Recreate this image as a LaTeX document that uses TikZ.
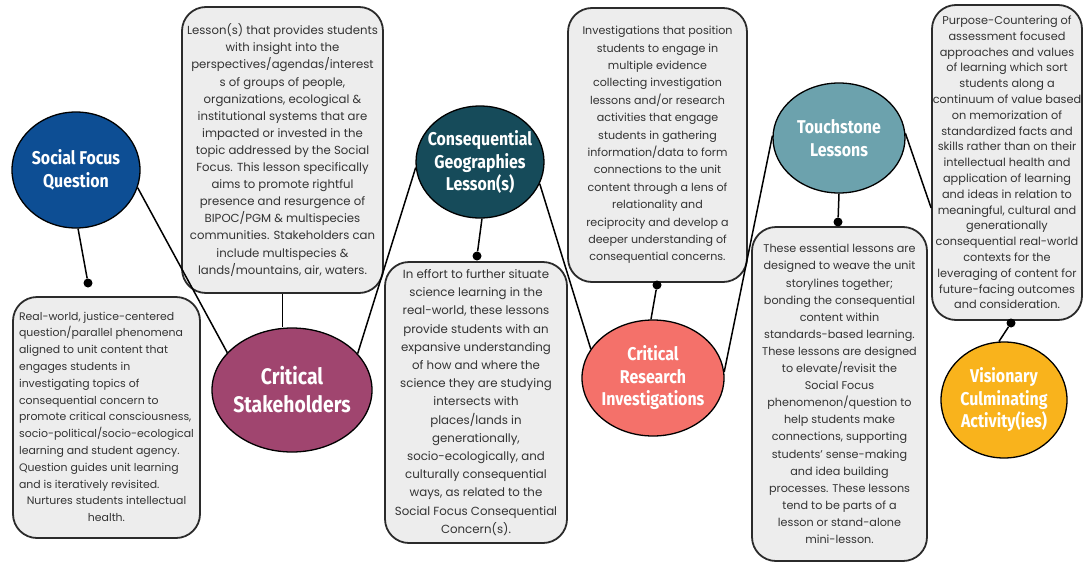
\documentclass[tikz,border=0pt]{standalone}
\usepackage{fontspec}
\setmainfont{Poppins}
\newfontfamily\titlefont{Fira Sans}[FakeStretch=0.86]
\usetikzlibrary{shapes.geometric,calc}

\definecolor{boxfill}{HTML}{EDEDED}
\definecolor{boxline}{HTML}{2B2B2B}
\definecolor{boxtext}{HTML}{333333}
\definecolor{sfqblue}{HTML}{0D4E94}
\definecolor{csplum}{HTML}{A0456F}
\definecolor{cgteal}{HTML}{164B5A}
\definecolor{crisalmon}{HTML}{F4716A}
\definecolor{tlteal}{HTML}{6CA2AD}
\definecolor{vcaamber}{HTML}{F9B31C}

\tikzset{
  descbox/.style={draw=boxline, line width=1.8pt, fill=boxfill,
    rounded corners=24pt, inner sep=0pt, align=center, text=boxtext,
    font=\fontsize{11.4}{17.2}\selectfont},
  topic/.style={ellipse, draw=black, line width=1.3pt, inner sep=0pt},
  topictext/.style={align=center, text=white, inner sep=0pt,
    font=\titlefont\bfseries\fontsize{18.5}{22.5}\selectfont},
  link/.style={line width=1.5pt, draw=black},
  dot/.style={circle, fill=black, inner sep=0pt, minimum size=9pt},
}

\begin{document}
\begin{tikzpicture}[x=1pt, y=-1pt]
\useasboundingbox (0,0) rectangle (1083,562);

% ---------- topic ellipses ----------
\node[topic, fill=sfqblue, minimum width=128pt, minimum height=116pt] (sfq) at (76,170) {};
\node[topic, fill=csplum, minimum width=160pt, minimum height=124pt] (cs) at (292,390) {};
\node[topic, fill=cgteal, minimum width=128pt, minimum height=112pt] (cg) at (480,162) {};
\node[topic, fill=crisalmon, minimum width=142pt, minimum height=116pt] (cri) at (653,378) {};
\node[topic, fill=tlteal, minimum width=132pt, minimum height=110pt] (tl) at (839,138) {};
\node[topic, fill=vcaamber, minimum width=126pt, minimum height=116pt] (vca) at (1004,400) {};

\node[topictext] (sfq-t) at (sfq) {Social Focus\\Question};
\node[topictext, font=\titlefont\bfseries\fontsize{22.5}{28}\selectfont] (cs-t) at (cs) {Critical\\Stakeholders};
\node[topictext] (cg-t) at (cg) {Consequential\\Geographies\\Lesson(s)};
\node[topictext] (cri-t) at (cri) {Critical\\Research\\Investigations};
\node[topictext] (tl-t) at (tl) {Touchstone\\Lessons};
\node[topictext] (vca-t) at (vca) {Visionary\\Culminating\\Activity(ies)};

% ---------- description boxes ----------
\node[descbox, minimum width=187pt, minimum height=241pt,
      font=\fontsize{10.9}{16.8}\selectfont] (b1) at (106.5,417.5) {%
  \begin{tabular}{@{}l@{}}
  Real-world, justice-centered\\
  question/parallel phenomena\\
  aligned to unit content that\\
  engages students in\\
  investigating topics of\\
  consequential concern to\\
  promote critical consciousness,\\
  socio-political/socio-ecological\\
  learning and student agency.\\
  Question guides unit learning\\
  and is iteratively revisited.\\
  \multicolumn{1}{@{}c@{}}{Nurtures students intellectual}\\
  \multicolumn{1}{@{}c@{}}{health.}
  \end{tabular}};

\node[descbox, minimum width=201pt, minimum height=286pt,
      font=\fontsize{11.7}{17.1}\selectfont] (b2) at (282.5,150) {%
  Lesson(s) that provides students\\
  with insight into the\\
  perspectives/agendas/interest\\
  s of groups of people,\\
  organizations, ecological \&\\
  institutional systems that are\\
  impacted or invested in the\\
  topic addressed by the Social\\
  Focus. This lesson specifically\\
  aims to promote rightful\\
  presence and resurgence of\\
  BIPOC/PGM \& multispecies\\
  communities. Stakeholders can\\
  include multispecies \&\\
  lands/mountains, air, waters.};

\node[descbox, minimum width=182pt, minimum height=281pt,
      font=\fontsize{11.8}{18.2}\selectfont] (b3) at (476,402.5) {%
  In effort to further situate\\
  science learning in the\\
  real-world, these lessons\\
  provide students with an\\
  expansive understanding\\
  of how and where the\\
  science they are studying\\
  intersects with\\
  places/lands in\\
  generationally,\\
  socio-ecologically, and\\
  culturally consequential\\
  ways, as related to the\\
  Social Focus Consequential\\
  Concern(s).};

\node[descbox, minimum width=179pt, minimum height=274pt,
      font=\fontsize{11.1}{17.4}\selectfont] (b4) at (657.5,145) {%
  Investigations that position\\
  students to engage in\\
  multiple evidence\\
  collecting investigation\\
  lessons and/or research\\
  activities that engage\\
  students in gathering\\
  information/data to form\\
  connections to the unit\\
  content through a lens of\\
  relationality and\\
  reciprocity and develop a\\
  deeper understanding of\\
  consequential concerns.};

\node[descbox, minimum width=175pt, minimum height=334pt,
      font=\fontsize{11.2}{17.1}\selectfont] (b5) at (839.5,394) {%
  These essential lessons are\\
  designed to weave the unit\\
  storylines together;\\
  bonding the consequential\\
  content within\\
  standards-based learning.\\
  These lessons are designed\\
  to elevate/revisit the\\
  Social Focus\\
  phenomenon/question to\\
  help students make\\
  connections, supporting\\
  students' sense-making\\
  and idea building\\
  processes. These lessons\\
  tend to be parts of a\\
  lesson or stand-alone\\
  mini-lesson.};

\node[descbox, minimum width=150pt, minimum height=315pt,
      font=\fontsize{11.3}{15.8}\selectfont] (b6) at (1007,162.5) {%
  Purpose-Countering of\\
  assessment focused\\
  approaches and values\\
  of learning which sort\\
  students along a\\
  continuum of value based\\
  on memorization of\\
  standardized facts and\\
  skills rather than on their\\
  intellectual health and\\
  application of learning\\
  and ideas in relation to\\
  meaningful, cultural and\\
  generationally\\
  consequential real-world\\
  contexts for the\\
  leveraging of content for\\
  future-facing outcomes\\
  and consideration.};

% ---------- attachment dots ----------
\node[dot] (d1) at (88,283) {};
\node[dot] (d3) at (477,256) {};
\node[dot] (d4) at (657,285) {};
\node[dot] (d5) at (838,222) {};
\node[dot] (d6) at (1011,323) {};
\coordinate (tl-end) at ($(b6.south west)+(0,-113)$);

% ---------- connectors ----------
\draw[link] (sfq.-88) -- (d1);
\draw[link] (sfq.-16) -- (cs.150);
\draw[link] (b2.south) -- (b2.south |- cs.north);
\draw[link] (cs.29) -- (cg.185);
\draw[link] (cg.-88) -- (d3);
\draw[link] (cg.-20) -- (cri.155);
\draw[link] (d4) -- (cri.92);
\draw[link] (cri.5) -- (tl.178);
\draw[link] (tl.-90) -- (d5);
\draw[link] (tl.4) -- (tl-end);
\draw[link] (d6) -- (vca.95);

\end{tikzpicture}
\end{document}
